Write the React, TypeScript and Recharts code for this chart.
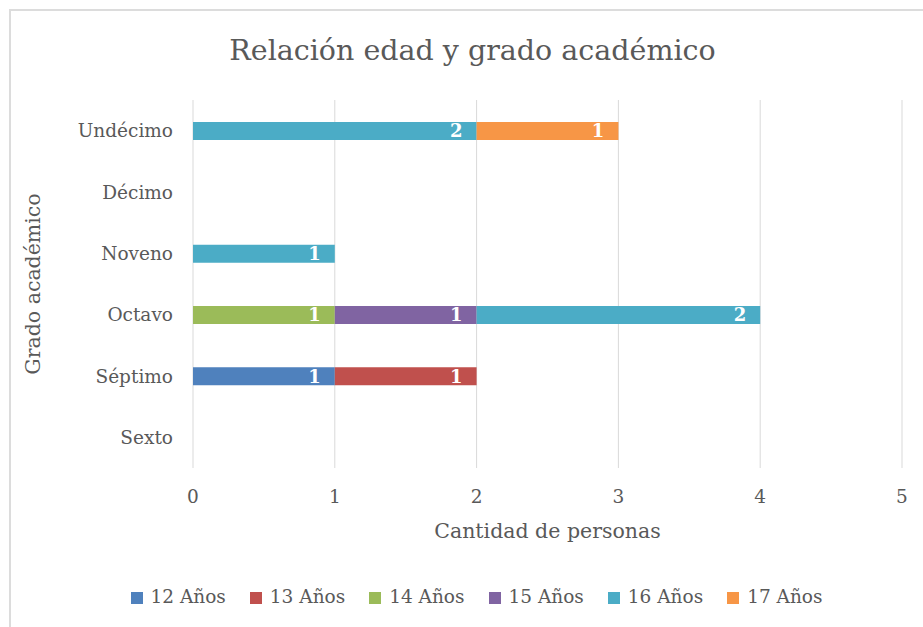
import React from 'react';
import { BarChart, Bar, XAxis, YAxis, CartesianGrid, Legend, LabelList, Label } from 'recharts';

// categorias, de arriba hacia abajo como en la imagen
const grados = ['Undécimo', 'Décimo', 'Noveno', 'Octavo', 'Séptimo', 'Sexto'];

const edades = ['12 Años', '13 Años', '14 Años', '15 Años', '16 Años', '17 Años'];
const colores = ['#4f81bd', '#c0504d', '#9bbb59', '#8064a2', '#4bacc6', '#f79646'];

// valores por edad, alineados con grados (null = sin barra)
const anos12 = [null, null, null, null, 1, null];
const anos13 = [null, null, null, null, 1, null];
const anos14 = [null, null, null, 1, null, null];
const anos15 = [null, null, null, 1, null, null];
const anos16 = [2, null, 1, 2, null, null];
const anos17 = [1, null, null, null, null, null];

const xTicks = [0, 1, 2, 3, 4, 5];

const series = [anos12, anos13, anos14, anos15, anos16, anos17];

const data = grados.map((g, i) => {
    const row: Record<string, string | number | null> = { grado: g };
    edades.forEach((e, j) => { row[e] = series[j][i]; });
    return row;
});

const FONT = '"DejaVu Serif", serif';
const GRIS = '#595959';

const App: React.FC = () => {
    return (
        <div style={{ position: 'absolute', left: 0, top: 0, width: 923, height: 627, background: '#fff', fontFamily: FONT }}>
            <div style={{ position: 'absolute', left: 9, top: 9, width: 920, height: 620, borderTop: '2px solid #dcdcdc', borderLeft: '2px solid #dcdcdc' }} />
            <div style={{ position: 'absolute', left: 0, width: 945, top: 34, textAlign: 'center', fontSize: 28.5, color: GRIS }}>
                Relación edad y grado académico
            </div>
            <div style={{ position: 'absolute', left: 0, top: 0 }}>
                <BarChart
                    width={923}
                    height={627}
                    data={data}
                    layout="vertical"
                    barSize={18}
                    margin={{ top: 100, right: 21, left: 33, bottom: 20 }}
                >
                    <CartesianGrid horizontal={false} stroke="#d9d9d9" strokeWidth={1} />
                    <XAxis
                        type="number"
                        domain={[0, 5]}
                        ticks={xTicks}
                        axisLine={false}
                        tickLine={false}
                        tick={{ fill: GRIS, fontSize: 18.5, fontFamily: FONT }}
                        tickMargin={16}
                        height={118}
                    >
                        <Label value="Cantidad de personas" position="insideBottom" offset={48} style={{ fill: GRIS, fontSize: 20.5, fontFamily: FONT }} />
                    </XAxis>
                    <YAxis
                        type="category"
                        dataKey="grado"
                        width={160}
                        axisLine={false}
                        tickLine={false}
                        tick={{ fill: GRIS, fontSize: 18.5, fontFamily: FONT }}
                        tickMargin={14}
                    >
                        <Label value="Grado académico" angle={-90} position="insideLeft" offset={0} style={{ fill: GRIS, fontSize: 20.5, fontFamily: FONT, textAnchor: 'middle' }} />
                    </YAxis>
                    <Legend
                        verticalAlign="bottom"
                        align="center"
                        iconType="square"
                        iconSize={12}
                        wrapperStyle={{ fontSize: 18.5, fontFamily: FONT, left: 54, width: 869 }}
                        formatter={(v: string) => <span style={{ color: GRIS, paddingLeft: 4, paddingRight: 14 }}>{v}</span>}
                    />
                    {edades.map((e, j) => (
                        <Bar key={e} dataKey={e} stackId="a" fill={colores[j]} isAnimationActive={false}>
                            <LabelList dataKey={e} position="insideRight" offset={14} fill="#fff" style={{ fontWeight: 'bold', fontSize: 18, fontFamily: FONT }} />
                        </Bar>
                    ))}
                </BarChart>
            </div>
        </div>
    );
};

export default App;
